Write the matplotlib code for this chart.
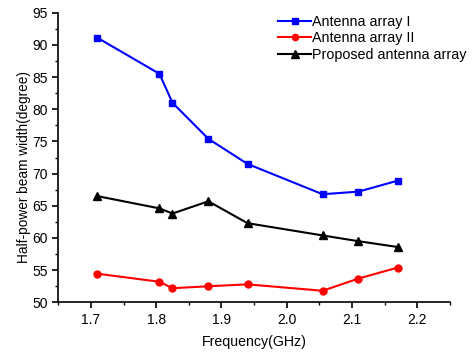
import matplotlib.pyplot as plt
from matplotlib.ticker import MultipleLocator

plt.rcParams['font.family'] = ['Liberation Sans', 'DejaVu Sans']

# Frequência (GHz) e largura de feixe de meia potência (graus)
freq = [1.71, 1.805, 1.825, 1.88, 1.94, 2.055, 2.11, 2.17]
array_1 = [91.1, 85.5, 81.0, 75.4, 71.5, 66.8, 67.2, 68.9]
array_2 = [54.45, 53.2, 52.2, 52.5, 52.8, 51.8, 53.7, 55.4]
proposed = [66.5, 64.6, 63.8, 65.7, 62.3, 60.4, 59.5, 58.6]

fig = plt.figure(figsize=(4.74, 3.52), dpi=100)
ax = fig.add_axes([0.123, 0.141, 0.826, 0.823])

ax.plot(freq, array_1, color='#0000ff', marker='s', markersize=5, lw=1.5, label='Antenna array I')
ax.plot(freq, array_2, color='#ff0000', marker='o', markersize=5, lw=1.5, label='Antenna array II')
ax.plot(freq, proposed, color='black', marker='^', markersize=6, lw=1.5, label='Proposed antenna array')

ax.set_xlim(1.65, 2.25)
ax.set_ylim(50, 95)
ax.xaxis.set_major_locator(MultipleLocator(0.1))
ax.xaxis.set_minor_locator(MultipleLocator(0.05))
ax.yaxis.set_major_locator(MultipleLocator(5))
ax.yaxis.set_minor_locator(MultipleLocator(2.5))
ax.set_xticks([1.7, 1.8, 1.9, 2.0, 2.1, 2.2])
ax.set_xticklabels(['1.7', '1.8', '1.9', '2.0', '2.1', '2.2'])

for s in ['top', 'right']:
    ax.spines[s].set_visible(False)
for s in ['left', 'bottom']:
    ax.spines[s].set_linewidth(1.2)

ax.tick_params(which='major', direction='out', length=4, width=1.2, labelsize=10)
ax.tick_params(which='minor', direction='out', length=2.5, width=1.0)

ax.set_xlabel('Frequency(GHz)', fontsize=10.2, labelpad=6)
ax.set_ylabel('Half-power beam width(degree)', fontsize=9.8)
ax.yaxis.set_label_coords(-0.07, 0.467)

ax.legend(loc='upper right', bbox_to_anchor=(1.012, 0.995), bbox_transform=fig.transFigure,
          frameon=False, fontsize=10.3, handlelength=2.3, handletextpad=0.1,
          labelspacing=0.2, markerscale=0.9)

fig.savefig('out.png', dpi=100)
